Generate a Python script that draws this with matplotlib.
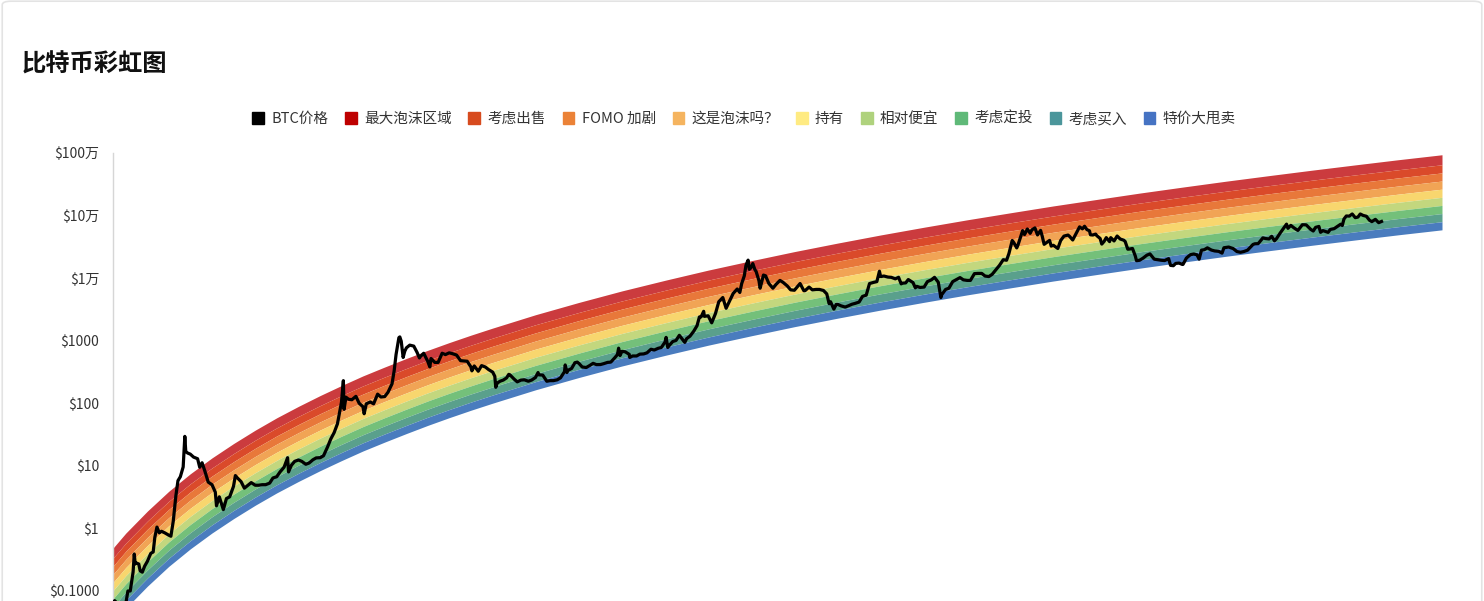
import matplotlib
matplotlib.use("Agg")
import matplotlib.pyplot as plt
import matplotlib.patches as mpatches
import numpy as np
import pandas as pd

plt.rcParams['font.family'] = ['Noto Sans CJK SC', 'DejaVu Sans']

# top edge of the rainbow (price in $)
edge_dates = ["2010-08-08", "2010-10-01", "2011-01-01", "2011-04-01", "2011-07-01",
              "2011-10-01", "2012-01-01", "2012-04-01", "2012-07-01", "2012-10-01",
              "2013-01-01", "2013-04-01", "2013-07-01", "2013-10-01", "2014-01-01",
              "2014-04-01", "2014-07-01", "2014-10-01", "2015-01-01", "2015-07-01",
              "2016-01-01", "2016-07-01", "2017-01-01", "2017-07-01", "2018-01-01",
              "2018-07-01", "2019-01-01", "2019-07-01", "2020-01-01", "2020-07-01",
              "2021-01-01", "2021-07-01", "2022-01-01", "2022-07-01", "2023-01-01",
              "2023-07-01", "2024-01-01", "2024-07-01", "2025-01-01", "2025-07-01",
              "2026-01-01"]
edge_top = [0.485, 0.84, 1.90, 3.92, 7.46,
            13.4, 22.8, 37.2, 58.6, 89.3,
            133, 192, 274, 380, 521,
            702, 933, 1227, 1592, 2600,
            4093, 6250, 9268, 13430, 19055,
            26550, 36390, 48980, 65160, 85500,
            110900, 142600, 181100, 228600, 285800,
            354000, 435500, 532100, 647100, 781600,
            937600]
# band boundaries, decades below the top edge
band_offsets = [0, 0.16, 0.29, 0.42, 0.55, 0.68, 0.81, 0.94, 1.07, 1.20]

band_names = ["最大泡沫区域", "考虑出售", "FOMO 加剧", "这是泡沫吗？", "持有",
              "相对便宜", "考虑定投", "考虑买入", "特价大甩卖"]
legend_colors = ["#BE0000", "#D74B1E", "#EB8237", "#F5B45F", "#FFEB82",
                 "#AFD27D", "#5FB978", "#4B969B", "#4673C3"]
band_colors = ["#CB3B3E", "#DA4A2A", "#E8783A", "#F1A455", "#F8D66E",
               "#C3D77E", "#74C07A", "#5AA08C", "#4A7CBE"]

# BTC price
btc_dates = [
    "2010-07-18", "2010-08-01", "2010-08-15", "2010-09-01", "2010-09-15", "2010-10-01",
    "2010-10-10", "2010-10-20", "2010-11-01", "2010-11-06", "2010-11-10", "2010-11-15",
    "2010-11-25", "2010-12-01", "2010-12-10", "2010-12-20",
    "2011-01-01", "2011-01-15", "2011-01-25", "2011-02-01", "2011-02-10", "2011-02-20",
    "2011-03-01", "2011-03-15", "2011-04-01", "2011-04-10", "2011-04-20", "2011-05-01",
    "2011-05-10", "2011-05-20", "2011-06-01", "2011-06-08", "2011-06-12", "2011-06-20",
    "2011-07-01", "2011-07-15", "2011-08-01", "2011-08-10", "2011-08-20", "2011-09-01",
    "2011-09-15", "2011-10-01", "2011-10-15", "2011-10-20", "2011-11-01", "2011-11-18",
    "2011-12-01", "2011-12-15", "2011-12-31",
    "2012-01-08", "2012-01-15", "2012-02-01", "2012-02-15", "2012-03-01", "2012-03-15",
    "2012-04-01", "2012-04-15", "2012-05-01", "2012-05-15", "2012-06-01", "2012-06-15",
    "2012-07-01", "2012-07-15", "2012-08-01", "2012-08-16", "2012-08-20", "2012-09-01",
    "2012-09-15", "2012-10-01", "2012-10-15", "2012-11-01", "2012-11-15", "2012-12-01",
    "2012-12-15",
    "2013-01-01", "2013-01-15", "2013-02-01", "2013-02-15", "2013-03-01", "2013-03-15",
    "2013-04-01", "2013-04-09", "2013-04-12", "2013-04-20", "2013-05-01", "2013-05-15",
    "2013-06-01", "2013-06-15", "2013-07-01", "2013-07-06", "2013-07-15", "2013-08-01",
    "2013-08-15", "2013-09-01", "2013-09-15", "2013-10-01", "2013-10-15", "2013-11-01",
    "2013-11-10", "2013-11-18", "2013-11-30", "2013-12-04", "2013-12-10", "2013-12-18",
    "2013-12-25",
    "2014-01-01", "2014-01-15", "2014-02-01", "2014-02-15", "2014-02-25", "2014-03-01",
    "2014-03-15", "2014-04-01", "2014-04-10", "2014-04-15", "2014-05-01", "2014-05-15",
    "2014-06-01", "2014-06-15", "2014-07-01", "2014-07-15", "2014-08-01", "2014-08-18",
    "2014-09-01", "2014-09-15", "2014-10-01", "2014-10-05", "2014-10-15", "2014-11-01",
    "2014-11-15", "2014-12-01", "2014-12-15",
    "2015-01-01", "2015-01-10", "2015-01-14", "2015-01-20", "2015-02-01", "2015-02-15",
    "2015-03-01", "2015-03-10", "2015-03-15", "2015-04-01", "2015-04-15", "2015-05-01",
    "2015-05-15", "2015-06-01", "2015-06-15", "2015-07-01", "2015-07-12", "2015-07-15",
    "2015-08-01", "2015-08-18", "2015-09-01", "2015-09-15", "2015-10-01", "2015-10-15",
    "2015-11-01", "2015-11-04", "2015-11-11", "2015-11-15", "2015-12-01", "2015-12-15",
    "2015-12-25",
    "2016-01-01", "2016-01-15", "2016-02-01", "2016-02-15", "2016-03-01", "2016-03-15",
    "2016-04-01", "2016-04-15", "2016-05-01", "2016-05-15", "2016-06-01", "2016-06-12",
    "2016-06-17", "2016-06-23", "2016-07-01", "2016-07-15", "2016-08-01", "2016-08-03",
    "2016-08-15", "2016-09-01", "2016-09-15", "2016-10-01", "2016-10-15", "2016-11-01",
    "2016-11-15", "2016-12-01", "2016-12-15", "2016-12-31",
    "2017-01-04", "2017-01-11", "2017-01-15", "2017-02-01", "2017-02-15", "2017-03-01",
    "2017-03-10", "2017-03-24", "2017-04-01", "2017-04-15", "2017-05-01", "2017-05-15",
    "2017-05-25", "2017-06-01", "2017-06-12", "2017-06-15", "2017-07-01", "2017-07-16",
    "2017-08-01", "2017-08-15", "2017-09-01", "2017-09-15", "2017-10-01", "2017-10-15",
    "2017-11-01", "2017-11-12", "2017-11-20", "2017-12-01", "2017-12-08", "2017-12-17",
    "2017-12-22", "2017-12-28",
    "2018-01-06", "2018-01-15", "2018-01-20", "2018-02-01", "2018-02-06", "2018-02-20",
    "2018-03-01", "2018-03-15", "2018-04-01", "2018-04-15", "2018-05-01", "2018-05-15",
    "2018-06-01", "2018-06-15", "2018-07-01", "2018-07-25", "2018-08-10", "2018-08-15",
    "2018-09-01", "2018-09-15", "2018-10-01", "2018-10-15", "2018-11-01", "2018-11-15",
    "2018-11-25", "2018-12-01", "2018-12-15", "2018-12-25",
    "2019-01-01", "2019-01-15", "2019-02-01", "2019-02-15", "2019-03-01", "2019-03-15",
    "2019-04-01", "2019-04-15", "2019-05-01", "2019-05-15", "2019-06-01", "2019-06-15",
    "2019-06-26", "2019-07-01", "2019-07-15", "2019-08-01", "2019-08-15", "2019-09-01",
    "2019-09-15", "2019-09-26", "2019-10-01", "2019-10-15", "2019-10-26", "2019-11-01",
    "2019-11-15", "2019-11-25", "2019-12-01", "2019-12-15",
    "2020-01-01", "2020-01-15", "2020-02-01", "2020-02-14", "2020-03-01", "2020-03-12",
    "2020-03-15", "2020-04-01", "2020-04-15", "2020-05-01", "2020-05-15", "2020-06-01",
    "2020-06-15", "2020-07-01", "2020-07-15", "2020-08-01", "2020-08-15", "2020-09-01",
    "2020-09-15", "2020-10-01", "2020-10-15", "2020-11-01", "2020-11-15", "2020-12-01",
    "2020-12-15", "2020-12-25",
    "2021-01-08", "2021-01-15", "2021-01-27", "2021-02-01", "2021-02-15", "2021-02-21",
    "2021-03-01", "2021-03-13", "2021-03-25", "2021-04-01", "2021-04-14", "2021-04-25",
    "2021-05-08", "2021-05-15", "2021-05-23", "2021-06-01", "2021-06-15", "2021-06-22",
    "2021-07-01", "2021-07-20", "2021-08-01", "2021-08-15", "2021-09-01", "2021-09-07",
    "2021-09-21", "2021-10-01", "2021-10-15", "2021-10-20", "2021-11-01", "2021-11-10",
    "2021-11-20", "2021-12-01", "2021-12-05", "2021-12-15", "2021-12-27",
    "2022-01-01", "2022-01-15", "2022-01-22", "2022-02-01", "2022-02-10", "2022-02-24",
    "2022-03-01", "2022-03-15", "2022-03-28", "2022-04-10", "2022-04-25", "2022-05-01",
    "2022-05-12", "2022-05-20", "2022-06-01", "2022-06-13", "2022-06-18", "2022-07-01",
    "2022-07-15", "2022-08-01", "2022-08-14", "2022-09-01", "2022-09-15", "2022-10-01",
    "2022-10-15", "2022-11-01", "2022-11-09", "2022-11-21", "2022-12-01", "2022-12-15",
    "2022-12-30",
    "2023-01-01", "2023-01-15", "2023-02-01", "2023-02-15", "2023-03-01", "2023-03-10",
    "2023-03-20", "2023-04-01", "2023-04-14", "2023-05-01", "2023-05-15", "2023-06-01",
    "2023-06-15", "2023-06-23", "2023-07-13", "2023-08-01", "2023-08-17", "2023-09-01",
    "2023-09-15", "2023-10-01", "2023-10-24", "2023-11-01", "2023-11-15", "2023-12-05",
    "2023-12-15", "2023-12-31",
    "2024-01-11", "2024-01-23", "2024-02-01", "2024-02-15", "2024-03-01", "2024-03-14",
    "2024-03-20", "2024-04-01", "2024-04-15", "2024-05-01", "2024-05-20", "2024-06-05",
    "2024-06-24", "2024-07-05", "2024-07-15", "2024-07-29", "2024-08-05", "2024-08-15",
    "2024-09-06", "2024-09-15", "2024-10-01", "2024-10-15", "2024-10-29", "2024-11-05",
    "2024-11-12", "2024-11-22", "2024-12-05", "2024-12-17", "2024-12-30",
    "2025-01-10", "2025-01-20", "2025-02-01", "2025-02-15", "2025-02-28", "2025-03-10",
    "2025-03-25", "2025-04-08", "2025-04-20",
]
btc_price = [
    0.05, 0.06, 0.07, 0.06, 0.062, 0.062,
    0.10, 0.10, 0.20, 0.39, 0.27, 0.28,
    0.27, 0.21, 0.20, 0.25,
    0.30, 0.40, 0.42, 0.72, 1.05, 0.85,
    0.90, 0.85, 0.78, 0.75, 1.30, 3.3,
    5.8, 6.7, 9.6, 29.6, 17, 16,
    15.4, 13.8, 13.0, 9.5, 11.2, 8.2,
    5.5, 5.0, 3.8, 2.3, 3.2, 2.0,
    3.0, 3.2, 4.7,
    7.0, 6.5, 5.6, 4.4, 4.9, 5.4,
    4.9, 4.9, 5.0, 5.0, 5.3, 6.4,
    6.7, 8.0, 9.5, 13.5, 8.0, 10.2,
    11.8, 12.4, 11.8, 10.6, 11.1, 12.5,
    13.4,
    13.5, 14.5, 20, 27, 34, 47,
    104, 230, 80, 125, 116, 114,
    129, 100, 88, 68, 98, 105,
    98, 140, 126, 128, 150, 205,
    330, 600, 1120, 1150, 980, 540,
    680,
    770, 850, 820, 650, 530, 560,
    630, 470, 380, 520, 450, 450,
    630, 600, 640, 620, 590, 480,
    475, 470, 380, 330, 395, 325,
    400, 380, 345,
    315, 270, 180, 210, 225, 235,
    255, 290, 285, 245, 220, 235,
    237, 225, 235, 258, 310, 285,
    282, 225, 230, 230, 237, 255,
    320, 410, 310, 335, 360, 445,
    455,
    434, 380, 373, 400, 435, 415,
    416, 430, 450, 455, 535, 600,
    760, 580, 675, 665, 605, 540,
    570, 570, 610, 615, 640, 730,
    710, 755, 780, 960,
    1130, 780, 820, 970, 1010, 1220,
    1100, 940, 1080, 1180, 1420, 1740,
    2400, 2400, 2950, 2450, 2500, 1930,
    2720, 4200, 4900, 3300, 4400, 5700,
    6700, 5900, 8200, 10900, 16000, 19400,
    13800, 14500,
    17100, 13600, 12800, 9100, 6900, 11200,
    10900, 8200, 6900, 8000, 9200, 8500,
    7500, 6500, 6400, 8200, 6300, 6300,
    7200, 6500, 6600, 6600, 6350, 5600,
    3900, 4200, 3200, 3800,
    3800, 3600, 3450, 3620, 3820, 3950,
    4150, 5100, 5350, 8200, 8550, 8800,
    12900, 10600, 10800, 10400, 10300, 9750,
    10300, 8100, 8300, 8400, 9500, 9200,
    8500, 7000, 7400, 7100,
    7200, 8800, 9400, 10300, 8600, 4900,
    5400, 6600, 6900, 8800, 9400, 10200,
    9400, 9200, 9200, 11800, 11900, 11900,
    10800, 10600, 11500, 13800, 16000, 19700,
    19300, 24700,
    40000, 36800, 30400, 33500, 48800, 57500,
    49600, 61000, 52000, 59000, 63500, 49000,
    58000, 46700, 34700, 36700, 40100, 32500,
    33500, 29800, 39900, 47000, 48800, 46800,
    40700, 48200, 61500, 66000, 61300, 67500,
    59700, 57000, 49300, 48900, 50600,
    47700, 43100, 35000, 38700, 44400, 38300,
    44400, 39300, 47100, 42200, 40400, 38500,
    29000, 29200, 29800, 22500, 19000, 19300,
    20800, 23300, 24400, 20100, 19700, 19300,
    19100, 20500, 16000, 15800, 17200, 17400,
    16500,
    16600, 20900, 23700, 24300, 23600, 20100,
    28000, 28500, 30500, 28100, 27200, 26800,
    25100, 30600, 31400, 29700, 26600, 25900,
    26600, 28000, 34500, 35400, 35600, 44000,
    43000, 42300,
    46600, 39500, 43000, 51900, 62400, 73000,
    62500, 69700, 63400, 57800, 71400, 71100,
    60300, 56700, 64800, 67000, 54000, 57500,
    53900, 60000, 61700, 67000, 72700, 69400,
    88000, 98500, 98000, 106100, 92600,
    94500, 106000, 100600, 97500, 84300, 80000,
    87000, 77000, 80500,
]

y_ticks = [0.1, 1, 10, 100, 1000, 1e4, 1e5, 1e6]
y_tick_labels = ["$0.1000", "$1", "$10", "$100", "$1000", "$1万", "$10万", "$100万"]

edge_x = pd.to_datetime(edge_dates)
top = np.array(edge_top)
btc_x = pd.to_datetime(btc_dates)

fig = plt.figure(figsize=(14.84, 6.01), dpi=100)
fig.patch.set_facecolor("white")
card = mpatches.FancyBboxPatch((0.0015, -0.05), 0.997, 1.048,
                               boxstyle="round,pad=0,rounding_size=0.006",
                               transform=fig.transFigure, facecolor="white",
                               edgecolor="#e3e3e3", linewidth=1.2, zorder=-10)
fig.patches.append(card)

ax = fig.add_axes([113 / 1484, 0.0, (1442 - 113) / 1484, (601 - 153) / 601])
ax.set_facecolor("none")
ax.set_yscale("log")

for i in range(len(band_names)):
    upper = top / 10 ** band_offsets[i]
    lower = top / 10 ** band_offsets[i + 1]
    ax.fill_between(edge_x, lower, upper, color=band_colors[i], linewidth=0, zorder=1)

ax.plot(btc_x, btc_price, color="black", linewidth=2.3, solid_joinstyle="round", zorder=3)

ax.set_xlim(edge_x[0], edge_x[-1])
ax.set_ylim(10 ** -1.16, 1e6)
ax.set_yticks(y_ticks)
ax.set_yticklabels(y_tick_labels)
ax.yaxis.set_minor_locator(matplotlib.ticker.NullLocator())
ax.tick_params(axis="y", length=0, pad=10, labelsize=10, labelcolor="#333333")
ax.xaxis.set_visible(False)
for side in ["top", "right", "bottom"]:
    ax.spines[side].set_visible(False)
ax.spines["left"].set_color("#d6d6d6")
ax.spines["left"].set_linewidth(1)

fig.text(22 / 1484, 1 - 65 / 601, "比特币彩虹图", fontsize=17.5, fontweight=900,
         color="#111111", va="center", ha="left")

handles = [mpatches.Patch(color="black", label="BTC价格")]
for name, c in zip(band_names, legend_colors):
    handles.append(mpatches.Patch(color=c, label=name))
fig.legend(handles=handles, loc="center", bbox_to_anchor=(744 / 1484, 1 - 119 / 601),
           ncol=len(handles), frameon=False, fontsize=10.5, labelcolor="#333333",
           handlelength=0.8, handleheight=0.8, handletextpad=0.5, columnspacing=1.15,
           borderaxespad=0)

fig.savefig("out.png", dpi=100, facecolor="white")
